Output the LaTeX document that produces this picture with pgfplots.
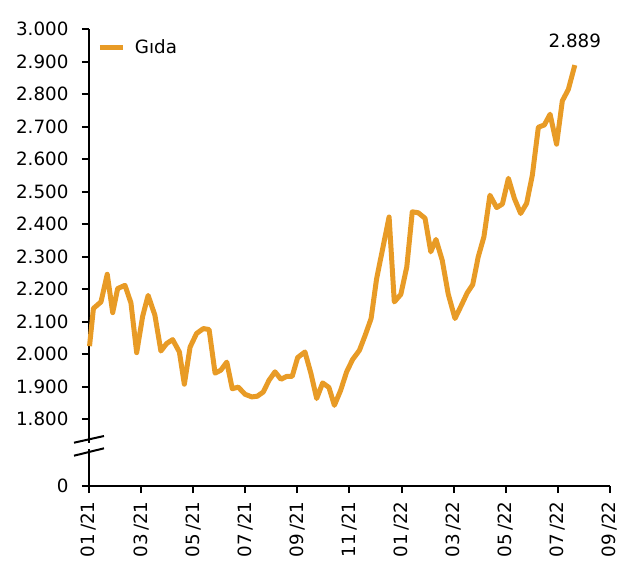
\documentclass[border=0pt]{standalone}
\usepackage{fontspec}
\setmainfont{DejaVu Sans}
\usepackage{pgfplots}
\pgfplotsset{compat=1.18}
\definecolor{gida}{RGB}{232,155,38}
\pgfplotstableread{
x y
0.02 2025
0.17 2141
0.46 2161
0.70 2246
0.91 2128
1.10 2202
1.38 2212
1.61 2158
1.83 2005
2.06 2117
2.27 2181
2.53 2120
2.76 2010
2.98 2033
3.21 2045
3.47 2007
3.66 1908
3.88 2022
4.13 2064
4.39 2079
4.61 2076
4.84 1942
5.06 1951
5.29 1976
5.50 1894
5.73 1899
5.99 1877
6.25 1869
6.46 1871
6.69 1884
6.91 1920
7.14 1946
7.37 1923
7.59 1932
7.80 1932
8.01 1990
8.29 2007
8.52 1941
8.74 1864
8.97 1912
9.21 1898
9.42 1843
9.66 1889
9.89 1946
10.12 1984
10.38 2012
10.60 2058
10.83 2110
11.04 2232
11.30 2335
11.52 2422
11.72 2161
11.97 2184
12.20 2269
12.41 2438
12.64 2435
12.90 2418
13.12 2315
13.32 2353
13.56 2289
13.79 2185
14.05 2110
14.31 2153
14.52 2189
14.73 2214
14.94 2299
15.16 2361
15.39 2489
15.65 2451
15.87 2462
16.10 2541
16.33 2479
16.57 2433
16.80 2464
17.02 2551
17.25 2698
17.48 2705
17.70 2738
17.95 2646
18.17 2779
18.40 2814
18.65 2889
}\gida
\begin{document}
\fontsize{9.15pt}{11pt}\selectfont
\begin{tikzpicture}[font=\fontsize{9.15pt}{11pt}\selectfont]
\begin{axis}[
  scale only axis,
  width=260.5pt, height=228.5pt,
  xmin=0, xmax=20, ymin=1595, ymax=3000,
  axis x line*=bottom, axis y line*=left,
  axis line style={line width=1pt,-},
  tick align=outside,
  major tick length=3.5pt,
  tick style={line width=1pt, black},
  xtick={0,2,...,20},
  xticklabels={01\,/21,03\,/21,05\,/21,07\,/21,09\,/21,11\,/21,01\,/22,03\,/22,05\,/22,07\,/22,09\,/22},
  x tick label style={rotate=90, anchor=east, xshift=-1pt},
  y tick label style={xshift=-3.5pt},
  ytick={1595,1800,1900,2000,2100,2200,2300,2400,2500,2600,2700,2800,2900,3000},
  yticklabels={0,1.800,1.900,2.000,2.100,2.200,2.300,2.400,2.500,2.600,2.700,2.800,2.900,3.000},
  legend style={at={(rel axis cs:0,1)}, anchor=north west, draw=none, fill=none, xshift=1pt, yshift=-1pt},
  legend cell align=left,
  legend image code/.code={\draw[#1] (0pt,0pt) -- (11.5pt,0pt); \path[draw=none] (0pt,0pt) -- (15.5pt,0pt);},
  clip=false,
]
\addplot[gida, line width=2.5pt, line join=round] table[x=x,y=y] {\gida};
\addlegendentry{Gıda}
\node[anchor=south, yshift=5.5pt] at (axis cs:18.65,2889) {2.889};
\coordinate (bl) at (rel axis cs:0,0);
\coordinate (tr) at (rel axis cs:1,1);
\end{axis}
\fill[white] ([shift={(-2pt,18.5pt)}]bl) rectangle ([shift={(2pt,21.5pt)}]bl);
\draw[line width=1pt] ([shift={(-7.5pt,21.65pt)}]bl) -- ([shift={(7.5pt,25pt)}]bl);
\draw[line width=1pt] ([shift={(-7.5pt,15.15pt)}]bl) -- ([shift={(7.5pt,18.85pt)}]bl);
\pgfresetboundingbox
\path ([shift={(-44.5pt,-39pt)}]bl) rectangle ([shift={(11.5pt,14.5pt)}]tr);
\end{tikzpicture}
\end{document}
